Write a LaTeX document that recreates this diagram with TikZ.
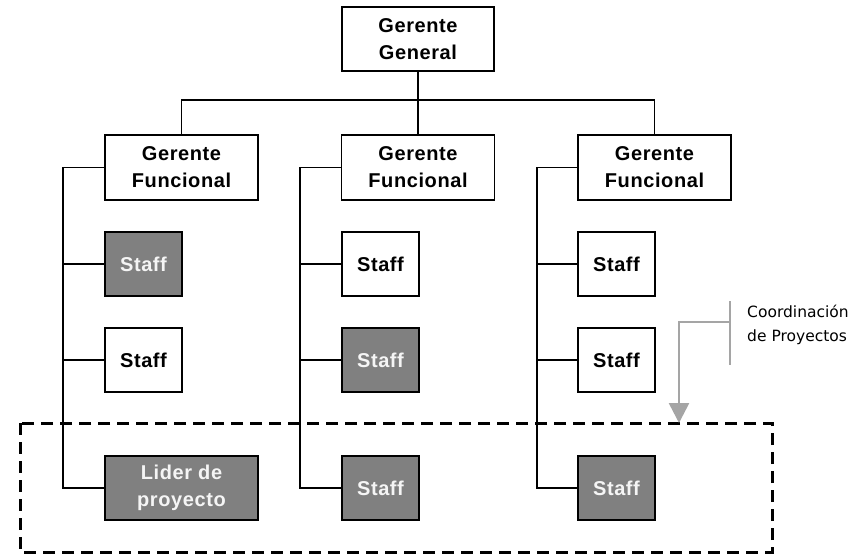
\documentclass[tikz,border=0pt]{standalone}
\usepackage{fontspec}
\setmainfont{Liberation Sans}
\newfontfamily\labelfont[LetterSpace=3]{Liberation Sans}
\newfontfamily\notefont{DejaVu Sans}
\usetikzlibrary{arrows.meta}
\definecolor{boxgray}{RGB}{128,128,128}
\definecolor{arrowgray}{RGB}{165,165,165}
\tikzset{
  wbox/.style={draw=black, line width=1.6pt, fill=white, align=center, inner sep=0pt,
    font=\labelfont\fontsize{20}{27}\selectfont\bfseries},
  gbox/.style={wbox, fill=boxgray, text={rgb,255:red,245;green,245;blue,245}},
  widebox/.style={minimum width=153pt, minimum height=65pt},
  smallbox/.style={minimum width=77pt, minimum height=64pt},
  conn/.style={line width=1.6pt, draw=black},
  grayline/.style={line width=2.6pt, draw=arrowgray},
  dashbox/.style={line width=3pt, dash pattern=on 12pt off 7pt, draw=black}
}
\begin{document}
\begin{tikzpicture}[x=1pt,y=1pt]
\useasboundingbox (0,0) rectangle (866,-555);
% top
\node[wbox, minimum width=152pt, minimum height=64pt] (gg) at (418,-39) {Gerente\\General};
\node[wbox, widebox] (gf1) at (181.5,-167.5) {Gerente\\Funcional};
\node[wbox, widebox] (gf2) at (418,-167.5) {Gerente\\Funcional};
\node[wbox, widebox] (gf3) at (654.5,-167.5) {Gerente\\Funcional};
\coordinate (busL) at (181.5,-100);
\coordinate (busR) at (654.5,-100);
\draw[conn] (gf1.north) -- (busL) -- (busR) -- (gf3.north);
\draw[conn] (gg.south) -- (gf2.north);
% column 1
\node[gbox, smallbox] (s11) at (143.5,-264) {Staff};
\node[wbox, smallbox] (s12) at (143.5,-360) {Staff};
\node[gbox, widebox, minimum height=64pt] (s13) at (181.5,-488) {Lider de\\proyecto};
% column 2
\node[wbox, smallbox] (s21) at (380.5,-264) {Staff};
\node[gbox, smallbox] (s22) at (380.5,-360) {Staff};
\node[gbox, smallbox] (s23) at (380.5,-488) {Staff};
% column 3
\node[wbox, smallbox] (s31) at (616.5,-264) {Staff};
\node[wbox, smallbox] (s32) at (616.5,-360) {Staff};
\node[gbox, smallbox] (s33) at (616.5,-488) {Staff};
% column lines
\coordinate (c1) at (63,-167.5);
\coordinate (c2) at (300,-167.5);
\coordinate (c3) at (537,-167.5);
\draw[conn] (gf1.west) -- (c1) |- (s13.west);
\draw[conn] (c1 |- s11.west) -- (s11.west);
\draw[conn] (c1 |- s12.west) -- (s12.west);
\draw[conn] (gf2.west) -- (c2) |- (s23.west);
\draw[conn] (c2 |- s21.west) -- (s21.west);
\draw[conn] (c2 |- s22.west) -- (s22.west);
\draw[conn] (gf3.west) -- (c3) |- (s33.west);
\draw[conn] (c3 |- s31.west) -- (s31.west);
\draw[conn] (c3 |- s32.west) -- (s32.west);
% dashed project box
\draw[dashbox] (20,-423) rectangle (772,-552);
% coordination arrow
\coordinate (barT) at (730,-301);
\coordinate (barB) at (730,-365);
\coordinate (barM) at (730,-322);
\coordinate (tip) at (679,-423);
\draw[grayline] (barT) -- (barB);
\draw[grayline, -{Triangle[width=20pt,length=20pt]}, arrowgray] (barM) -| (tip);
\node[anchor=west, align=left, inner sep=0pt, font=\notefont\fontsize{15.5}{24}\selectfont] (coord) at (747,-325) {Coordinación\\de Proyectos};
\end{tikzpicture}
\end{document}
